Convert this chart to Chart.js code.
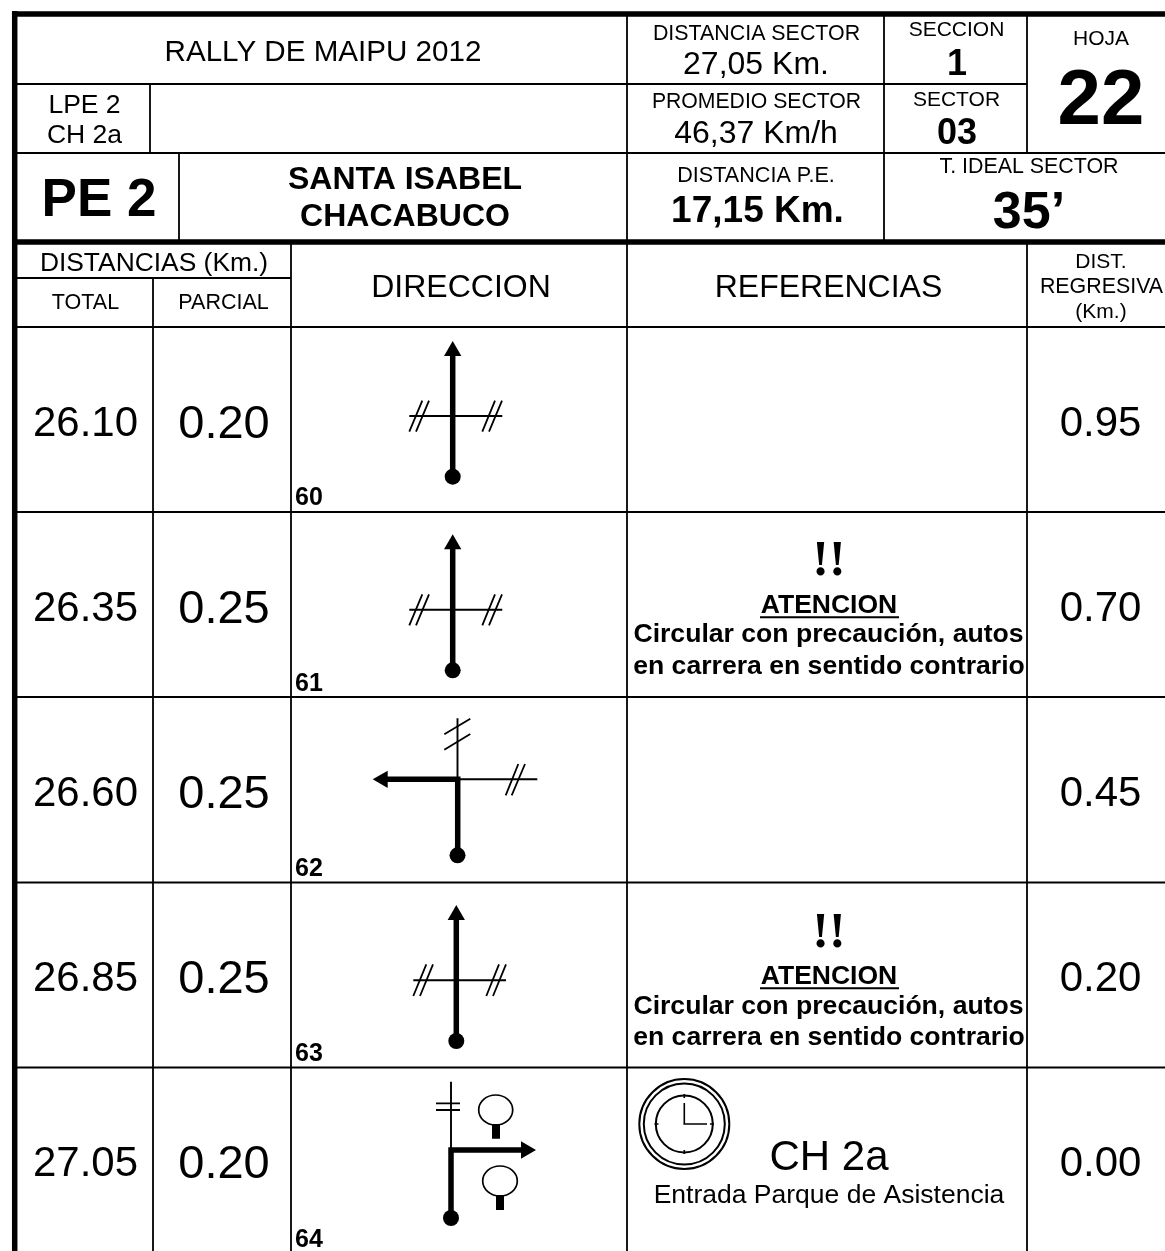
<!DOCTYPE html>
<html>
<head>
<meta charset="utf-8">
<title>Rally de Maipu 2012</title>
<script src="https://cdn.jsdelivr.net/npm/chart.js@4/dist/chart.umd.min.js"></script>
<style>html,body{margin:0;padding:0;background:#fff}canvas{display:block}</style>
</head>
<body>
<canvas id="c" width="1165" height="1251"></canvas>
<script>
// ---- values ----
const totals = ['26.10', '26.35', '26.60', '26.85', '27.05'];
const partials = ['0.20', '0.25', '0.25', '0.25', '0.20'];
const regressive = ['0.95', '0.70', '0.45', '0.20', '0.00'];
const stepNumbers = ['60', '61', '62', '63', '64'];
const warningTitle = 'ATENCION';
const warningMark = '!!';
const warningLines = ['Circular con precaución, autos', 'en carrera en sentido contrario'];
const clockTitle = 'CH 2a';
const clockNote = 'Entrada Parque de Asistencia';
const rally = 'RALLY DE MAIPU 2012';
const stage = 'PE 2';
const stageEnds = ['SANTA ISABEL', 'CHACABUCO'];
const controls = ['LPE 2', 'CH 2a'];
const sectorDistance = ['DISTANCIA SECTOR', '27,05 Km.'];
const sectorAverage = ['PROMEDIO SECTOR', '46,37 Km/h'];
const stageDistance = ['DISTANCIA P.E.', '17,15 Km.'];
const section = ['SECCION', '1'];
const sector = ['SECTOR', '03'];
const sheet = ['HOJA', '22'];
const idealTime = ['T. IDEAL SECTOR', '35’'];
const columnHeads = ['DISTANCIAS (Km.)', 'TOTAL', 'PARCIAL', 'DIRECCION', 'REFERENCIAS'];
const regressiveHead = ['DIST.', 'REGRESIVA', '(Km.)'];

// ---- table rules, as [x1,y1,x2,y2] on the page scale ----
const thinRules = [
  [15,84,1027,84],[15,153,1165,153],[15,278,291,278],[15,327,1165,327],
  [15,512,1165,512],[15,697,1165,697],[15,882.5,1165,882.5],[15,1067.5,1165,1067.5],
  [627,14,627,1251],[884,14,884,242],[1027,14,1027,153],[1027,242,1027,1251],
  [150,84,150,153],[179,153,179,242],[291,242,291,1251],[153,278,153,1251]
];
const thickRules = [[12,14,1165,14],[15,242,1165,242],[14.7,11,14.7,1251]];

// ---- route diagrams ----
const mainRoads = [
  [452.7,352,452.7,476],[452.7,545,452.7,670],
  [457.7,779.3,457.7,855],[460.5,779.3,386,779.3],
  [456.3,915,456.3,1041],
  [451,1147.5,451,1218],[448.5,1150,522,1150]
];
const sideRoads = [
  [409.3,416,502.3,416],[409.3,609.7,502.3,609.7],
  [457.5,718.3,457.5,779],[460,779.3,537.3,779.3],
  [413.3,980.3,506,980.3],
  [451,1081.7,451,1150]
];
const slashes = [
  [409.3,431.7,422.3,400.7],[416,431.7,429,400.7],[482.3,431.7,495,400.7],[489,431.7,502,400.7],
  [409.3,625.3,422.3,594.3],[416,625.3,429,594.3],[482.3,625.3,495,594.3],[489,625.3,502,594.3],
  [444.3,734.3,470.3,718.7],[444.3,749.7,470.3,734],[505.7,795.3,518.3,764],[511.7,795.3,525,764],
  [413.3,996,426.3,964.3],[420,996,433,964.3],[486.3,996,499,964.3],[493,996,506,964.3],
  [436,1103.3,460,1103.3],[436,1110,460,1110]
];
const treeStems = [[496,1124,496,1138.7],[500,1195,500,1210]];
const treeCrowns = [[495.7,1110,17,15],[500,1181,17.3,15]];
const startDots = [[452.7,476.7],[452.7,670.3],[457.5,855.3],[456.3,1041],[451,1218]];
const arrowTips = [[452.7,351,0],[452.7,544.3,0],[382.7,779.3,-90],[456.3,915,0],[526,1150,90]];
const clockCentre = [684.3,1124];
const clockRings = [45,40.5,28.5];
const clockMarks = [
  [684.3,1103,684.3,1124],[683.4,1124,707,1124],
  [684.3,1094,684.3,1098],[684.3,1150,684.3,1154],[654.5,1124,658.5,1124],[710,1124,714,1124]
];
const underlines = [[760,617.3,899,617.3],[760,988.3,899,988.3]];

// ---- text placement: [text, centre x, baseline y, size, bold] ----
const SANS = '"Liberation Sans", Arial, sans-serif';
const rowBase = [436, 621, 806, 991, 1176];
const stepBase = [505, 690.5, 876, 1061, 1247];
const labels = [
  [rally,323,61,29.6,0],
  [controls[0],84.5,113,26.5,0],[controls[1],84.5,143,26.5,0],
  [stage,99,216,53,1],
  [stageEnds[0],405,189,32,1],[stageEnds[1],405,226,32,1],
  [sectorDistance[0],756.5,39.5,21.4,0],[sectorDistance[1],756,74,32,0],
  [sectorAverage[0],756.5,108,21.2,0],[sectorAverage[1],756,142.7,32,0],
  [stageDistance[0],756,182.3,21.6,0],[stageDistance[1],757.5,221.7,37,1],
  [section[0],956.5,35.7,21,0],[section[1],957,75,36,1],
  [sector[0],956.5,105.7,21,0],[sector[1],957,144,36,1],
  [sheet[0],1101,45,21,0],[sheet[1],1101,124,78,1],
  [idealTime[0],1029,173.3,21.4,0],[idealTime[1],1029,227.7,52,1],
  [columnHeads[0],154,270.7,26.4,0],[columnHeads[1],85.5,309,21.5,0],[columnHeads[2],223.5,309,21.5,0],
  [columnHeads[3],461,296.7,32,0],[columnHeads[4],828.5,296.7,32,0],
  [regressiveHead[0],1101,268,21,0],[regressiveHead[1],1101.5,292.7,21.4,0],[regressiveHead[2],1101,318,21,0],
  [warningTitle,829,613.3,26.5,1],[warningLines[0],828.5,642.3,26.6,1],[warningLines[1],829,674,26.6,1],
  [warningTitle,829,984.3,26.5,1],[warningLines[0],828.5,1014.3,26.6,1],[warningLines[1],829,1045,26.6,1],
  [clockTitle,829,1170,42,0],[clockNote,829,1203.3,26.5,0]
];
totals.forEach((t,i)=>labels.push([t,85.5,rowBase[i],42,0]));
partials.forEach((t,i)=>labels.push([t,224,rowBase[i]+2,47,0]));
regressive.forEach((t,i)=>labels.push([t,1100.5,rowBase[i],42,0]));

// ---- helpers building library datasets ----
const segs = list => list.flatMap(s => [{x:s[0],y:s[1]},{x:s[2],y:s[3]},{x:null,y:null}]);
const lineSet = (list,w) => ({type:'scatter',data:segs(list),showLine:true,spanGaps:false,borderColor:'#000',
  backgroundColor:'#000',borderWidth:w,pointRadius:0,borderCapStyle:'butt',tension:0});

const pageText = {
  id:'pageText',
  afterDatasetsDraw(chart){
    const {ctx,scales:{x,y}} = chart;
    ctx.save();
    // tree crowns
    ctx.strokeStyle='#000'; ctx.lineWidth=1.7;
    treeCrowns.forEach(t=>{
      ctx.beginPath();
      ctx.ellipse(x.getPixelForValue(t[0]),y.getPixelForValue(t[1]),t[2],t[3],0,0,Math.PI*2);
      ctx.stroke();
    });
    // text
    ctx.fillStyle='#000'; ctx.textAlign='center'; ctx.textBaseline='alphabetic';
    labels.forEach(l=>{
      ctx.font=(l[4]?'bold ':'')+l[3]+'px '+SANS;
      ctx.fillText(l[0],x.getPixelForValue(l[1]),y.getPixelForValue(l[2]));
    });
    ctx.textAlign='left'; ctx.font='bold 25px '+SANS;
    stepNumbers.forEach((s,i)=>ctx.fillText(s,x.getPixelForValue(295),y.getPixelForValue(stepBase[i])));
    ctx.textAlign='center'; ctx.font='bold 50px "Liberation Serif", serif';
    ctx.fillText(warningMark,x.getPixelForValue(829),y.getPixelForValue(575));
    ctx.fillText(warningMark,x.getPixelForValue(829),y.getPixelForValue(947));
    ctx.restore();
  }
};

new Chart(document.getElementById('c'),{
  type:'scatter',
  data:{datasets:[
    lineSet(thinRules,1.8),
    lineSet(thickRules,5.5),
    lineSet(sideRoads,1.9),
    lineSet(slashes,1.8),
    lineSet(mainRoads,5.5),
    lineSet(treeStems,8),
    lineSet(clockMarks,1.6),
    lineSet(underlines,2),
    {type:'scatter',data:startDots.map(d=>({x:d[0],y:d[1]})),pointRadius:8,pointStyle:'circle',
      pointBackgroundColor:'#000',pointBorderWidth:0,showLine:false},
    {type:'scatter',data:arrowTips.map(d=>({x:d[0],y:d[1]})),pointRadius:10,pointStyle:'triangle',
      pointRotation:arrowTips.map(d=>d[2]),pointBackgroundColor:'#000',pointBorderWidth:0,showLine:false},
    {type:'scatter',data:clockRings.map(()=>({x:clockCentre[0],y:clockCentre[1]})),pointRadius:clockRings,
      pointStyle:'circle',pointBackgroundColor:'transparent',pointBorderColor:'#000',pointBorderWidth:2,showLine:false}
  ]},
  options:{
    responsive:false,animation:false,devicePixelRatio:1,events:[],
    layout:{padding:0,autoPadding:false},
    plugins:{legend:{display:false},tooltip:{enabled:false},title:{display:false}},
    scales:{
      x:{type:'linear',min:0,max:1165,display:false},
      y:{type:'linear',min:0,max:1251,reverse:true,display:false}
    }
  },
  plugins:[pageText]
});
</script>
</body>
</html>
